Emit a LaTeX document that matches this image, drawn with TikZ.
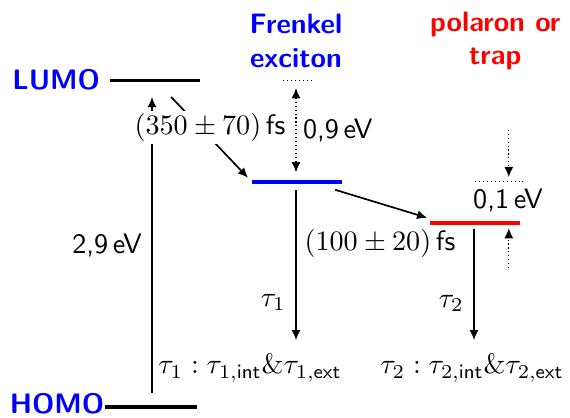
\documentclass[tikz,border=0pt]{standalone}
\usepackage{amsmath,amssymb}
\usetikzlibrary{arrows.meta, positioning, calc}

\begin{document}
\begin{tikzpicture}[
  >={Latex[length=3.6pt, width=3.2pt]},
  every node/.style={font=\sffamily},
  level/.style={line width=1.1pt},
  state level/.style={line width=1.5pt},
  transfer/.style={semithick, ->},
  gap arrow/.style={thin, densely dotted, ->},
  ref line/.style={thin, densely dotted},
  level name/.style={font=\sffamily\bfseries, text=blue},
  state name/.style={font=\sffamily\bfseries, align=center},
]

% Frame
\useasboundingbox (0,0) rectangle (7.125,5.2125);

% ======== Energy levels ========
% LUMO / HOMO
\coordinate (lumoL) at (1.375,4.21);
\coordinate (lumoR) at (2.5,4.21);
\coordinate (homoL) at (1.31,0.125);
\coordinate (homoR) at (2.46,0.125);
\draw[level] (lumoL) -- (lumoR);
\draw[level] (homoL) -- (homoR);
\node[level name, anchor=east] (lumo) at (lumoL) {LUMO};
\node[level name, anchor=east, inner sep=0pt] (homo) at ($(homoL)+(0,0.04)$) {HOMO};

% Frenkel exciton level
\coordinate (excL) at (3.15,2.94);
\coordinate (excR) at (4.275,2.94);
\draw[state level, blue] (excL) -- (excR);
\node[state name, text=blue] (exctitle) at (3.7,4.7) {Frenkel\\exciton};

% Polaron / trap level
\coordinate (polL) at (5.375,2.425);
\coordinate (polR) at (6.5,2.425);
\draw[state level, red] (polL) -- (polR);
\node[state name, text=red] (poltitle) at (6.19,4.7) {polaron or\\trap};

% ======== Excitation HOMO -> LUMO ========
\coordinate (exbot) at (1.9,0.3);
\coordinate (extop) at (1.9,4.0);
\draw[transfer] (exbot) -- node[left, pos=0.5] (gaplabel) {2,9\,eV} (extop);

% ======== Relaxation LUMO -> exciton ========
\coordinate (relaxA) at (2.14,4.0);
\coordinate (relaxB) at (3.1,2.99);
\draw[transfer] (relaxA) -- (relaxB);
\node[fill=white, inner sep=1pt] (relaxtime) at (2.625,3.62) {$(350\pm70)$\,fs};

% Binding energy of the exciton (0,9 eV)
\coordinate (bindL) at (3.54,4.21);
\coordinate (bindR) at (3.91,4.21);
\draw[ref line] (bindL) -- (bindR);
\coordinate (bindtop) at (3.7,4.11);
\coordinate (bindbot) at (3.7,3.06);
\draw[gap arrow, <->] (bindtop) -- node[right=-1pt] (bindlabel) {0,9\,eV} (bindbot);

% ======== Transfer exciton -> polaron ========
\coordinate (transA) at (4.19,2.84);
\coordinate (transB) at (5.34,2.49);
\draw[transfer] (transA) -- (transB);
\node (transtime) at (4.75,2.17) {$(100\pm20)$\,fs};

% Trap depth (0,1 eV)
\coordinate (trapL) at (5.94,2.94);
\coordinate (trapR) at (6.54,2.94);
\draw[ref line] (trapL) -- (trapR);
\coordinate (traptop) at (6.36,3.59);
\coordinate (trapin) at (6.36,3.0);
\draw[gap arrow] (traptop) -- (trapin);
\coordinate (trapbot) at (6.36,1.86);
\coordinate (trapout) at (6.36,2.36);
\draw[gap arrow] (trapbot) -- (trapout);
\node (traplabel) at (6.35,2.71) {0,1\,eV};

% ======== Decay channels ========
\coordinate (decayA) at (3.7,2.84);
\coordinate (decayAend) at (3.7,0.96);
\draw[transfer] (decayA) -- node[left, pos=0.75] (tauA) {$\tau_1$} (decayAend);
\node (tauAdef) at (3.125,0.61) {$\tau_1:\tau_{1,\mathsf{int}}\&\tau_{1,\mathsf{ext}}$};

\coordinate (decayB) at (5.925,2.35);
\coordinate (decayBend) at (5.925,0.96);
\draw[transfer] (decayB) -- node[left, pos=0.67] (tauB) {$\tau_2$} (decayBend);
\node (tauBdef) at (5.9,0.61) {$\tau_2:\tau_{2,\mathsf{int}}\&\tau_{2,\mathsf{ext}}$};

\end{tikzpicture}
\end{document}
